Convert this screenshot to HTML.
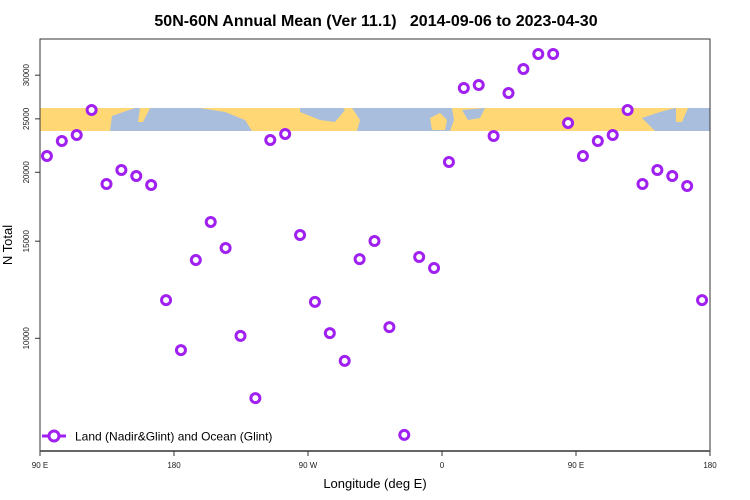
<!DOCTYPE html>
<html><head><meta charset="utf-8"><style>
body{margin:0;background:#fff;}
svg{display:block;font-family:"Liberation Sans",sans-serif;}
</style></head><body>
<svg id="chart" width="750" height="500" xmlns="http://www.w3.org/2000/svg">
<text x="376" y="26" text-anchor="middle" font-size="16" font-weight="bold" style="white-space:pre" xml:space="preserve">50N-60N Annual Mean (Ver 11.1)   2014-09-06 to 2023-04-30</text>
<g>
<rect x="40" y="108" width="670" height="23" fill="#a8bedc"/>
<polygon fill="#ffd875" points="40,108 135,108 112,116 110,131 40,131"/>
<polygon fill="#ffd875" points="140,108 150,108 143,122 138,122"/>
<polygon fill="#ffd875" points="200,108 300,108 300,112 320,120 335,122 345,110 343,108 352,108 360,120 357,131 252,131 245,120 225,112"/>
<polygon fill="#ffd875" points="430,118 440,113 447,120 445,130 432,130"/>
<polygon fill="#ffd875" points="452,108 675,108 660,112 642,118 648,124 655,131 450,131 454,120"/>
<polygon fill="#a8bedc" points="462,110 485,108 480,118 468,120"/>
<polygon fill="#ffd875" points="676,108 688,108 682,122 676,122"/>
</g>
<rect x="40" y="39" width="670" height="412" fill="none" stroke="#333" stroke-width="1"/>
<line x1="40" y1="451" x2="710" y2="451" stroke="#666" stroke-width="2"/>
<g id="yaxis" font-size="8" fill="#222"></g>
<g id="xaxis" font-size="8" fill="#222"></g>
<g id="points"></g>
<text transform="translate(12,245) rotate(-90)" text-anchor="middle" font-size="13">N Total</text>
<text x="375" y="488" text-anchor="middle" font-size="13">Longitude (deg E)</text>
<g>
<line x1="42" y1="436" x2="66" y2="436" stroke="#a020f0" stroke-width="3"/>
<circle cx="54" cy="436" r="5" fill="#fff" stroke="#a020f0" stroke-width="3"/>
<text x="75" y="440.5" font-size="12">Land (Nadir&amp;Glint) and Ocean (Glint)</text>
</g>
</svg>
<script>
const yTicks=[10000,15000,20000,25000,30000];
const xTickLon=[90,180,270,360,450,540];
const xTickLabels=["90 E","180","90 W","0","90 E","180"];
const lons=[95,105,115,125,135,145,155,165,175,185,195,205,215,225,235,245,255,265,275,285,295,305,315,325,335,345,355,365,375,385,395,405,415,425,435,445,455,465,475,485,495,505,515,525,535];
const values=[21410,22790,23370,25940,19050,20190,19690,18970,11730,9520,13870,16250,14580,10100,7790,22890,23470,15390,11640,10220,9100,13920,15010,10480,6680,14040,13410,20880,28440,28800,23270,27850,30780,32780,32780,24570,21410,22790,23370,25940,19050,20190,19690,18890,11730];
const NS='http://www.w3.org/2000/svg';
function xs(l){return 40+(l-90)*670/450;}
function ys(v){return 338.3-239.5*Math.log(v/10000);}
const ya=document.getElementById('yaxis');
yTicks.forEach(t=>{
 const y=ys(t);
 const ln=document.createElementNS(NS,'line');
 
 
 ln.setAttribute('x1',35);ln.setAttribute('x2',40);ln.setAttribute('y1',y);ln.setAttribute('y2',y);ln.setAttribute('stroke','#333');
 ya.appendChild(ln);
 const tx=document.createElementNS(NS,'text');
 
 
 tx.setAttribute('transform','translate(29,'+y+') rotate(-90)');
 tx.setAttribute('text-anchor','middle');
 tx.textContent=t;
 ya.appendChild(tx);
});
const xa=document.getElementById('xaxis');
xTickLon.forEach((l,i)=>{
 const x=xs(l);
 const ln=document.createElementNS(NS,'line');
 
 
 ln.setAttribute('x1',x);ln.setAttribute('x2',x);ln.setAttribute('y1',451);ln.setAttribute('y2',456);ln.setAttribute('stroke','#333');
 xa.appendChild(ln);
 const tx=document.createElementNS(NS,'text');
 
 
 tx.setAttribute('x',x);tx.setAttribute('y',468);tx.setAttribute('text-anchor','middle');
 tx.textContent=xTickLabels[i];
 xa.appendChild(tx);
});
const pg=document.getElementById('points');
lons.forEach((l,i)=>{
 const c=document.createElementNS(NS,'circle');
 
 
 c.setAttribute('cx',xs(l)-0.5);c.setAttribute('cy',ys(values[i]));c.setAttribute('r',4.5);
 c.setAttribute('fill','#fff');c.setAttribute('stroke','#a020f0');c.setAttribute('stroke-width',3);
 pg.appendChild(c);
});
</script>
</body></html>
